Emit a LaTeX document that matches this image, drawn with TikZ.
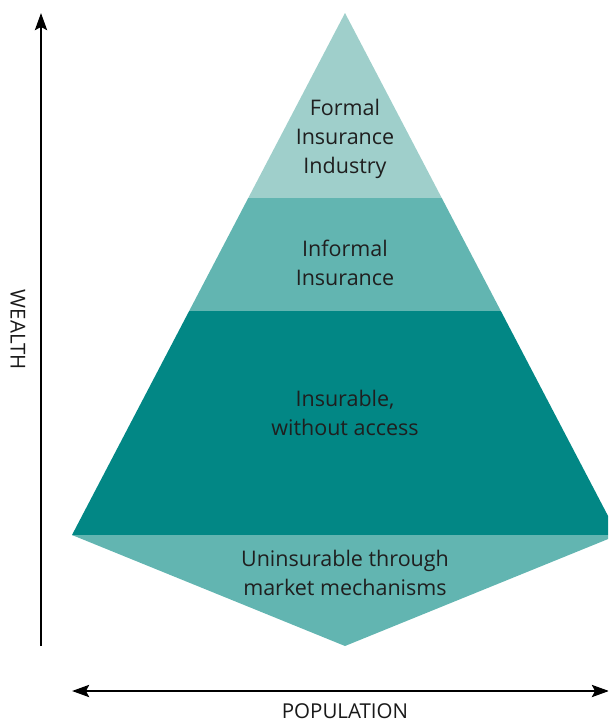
\documentclass[tikz,border=0pt]{standalone}
\usepackage{fontspec}
\setmainfont{Open Sans}
\usetikzlibrary{arrows.meta,calc}
\definecolor{tlight}{HTML}{9FCFCB}
\definecolor{tmid}{HTML}{62B5B1}
\definecolor{tdark}{HTML}{028785}

\begin{document}
\begin{tikzpicture}[
  x=1pt,y=-1pt,
  lbl/.style={font=\fontsize{21.5}{29}\selectfont,align=center,text=black!88,inner sep=0pt},
  axlbl/.style={font=\fontsize{20.5}{24}\selectfont,text=black!90,inner sep=0pt},
  axis/.style={line width=2.7pt,black}
]
  \useasboundingbox (0,0) rectangle (608,723);
  \clip (0,0) rectangle (608,723);

  % Pyramid corners
  \coordinate (top) at (345,13);
  \coordinate (bl)  at (72,535);
  \coordinate (br)  at (618,535);
  \coordinate (tip) at (345,646);

  % Layers, top to bottom
  \fill[tlight] (top) -- ($(top)!0.3544!(br)$) -- ($(top)!0.3544!(bl)$) -- cycle;
  \fill[tmid]   ($(top)!0.3544!(bl)$) -- ($(top)!0.3544!(br)$)
                -- ($(top)!0.5709!(br)$) -- ($(top)!0.5709!(bl)$) -- cycle;
  \fill[tdark]  ($(top)!0.5709!(bl)$) -- ($(top)!0.5709!(br)$) -- (br) -- (bl) -- cycle;
  \fill[tmid]   (bl) -- (br) -- (tip) -- cycle;

  % Layer labels
  \node[lbl] (formal)   at (345,139) {Formal\\Insurance\\Industry};
  \node[lbl] (informal) at (345,263) {Informal\\Insurance};
  \node[lbl] (noaccess) at (345,413) {Insurable,\\without access};
  \node[lbl] (uninsure) at (345,573) {Uninsurable through\\market mechanisms};

  % Axes
  \coordinate (wlow)  at (41,646);
  \coordinate (whigh) at (41,13);
  \coordinate (pleft)  at (72,691);
  \coordinate (pright) at (609,691);
  \draw[axis,-{Stealth[length=17pt,width=12pt,inset=3pt]}] (wlow) -- (whigh);
  \draw[axis,{Stealth[length=17pt,width=12pt,inset=3pt]}-{Stealth[length=17pt,width=12pt,inset=3pt]}] (pleft) -- (pright);

  \node[axlbl,rotate=-90] (wealth) at (18,330) {WEALTH};
  \node[axlbl] (population) at (345,711) {POPULATION};
\end{tikzpicture}
\end{document}
